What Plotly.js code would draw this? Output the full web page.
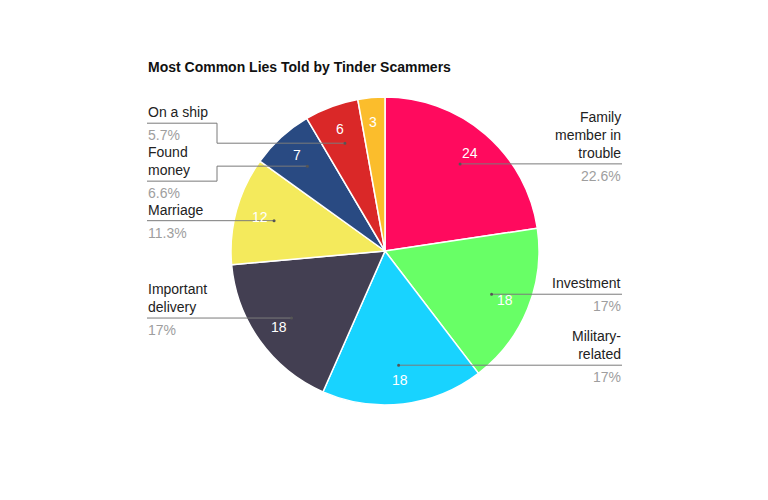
<!DOCTYPE html>
<html>
<head>
<meta charset="utf-8">
<script src="https://cdn.plot.ly/plotly-3.0.1.min.js"></script>
<style>
  html, body { margin: 0; padding: 0; background: #fff; }
  #chart { width: 768px; height: 500px; }
</style>
</head>
<body>
<div id="chart"></div>
<script>
// data
var categories = ["Family member in trouble", "Investment", "Military-related", "Important delivery",
                  "Marriage", "Found money", "On a ship", "Other"]
var counts = [24, 18, 18, 18, 12, 7, 6, 3]
var calloutText = ["Family<br>member in<br>trouble", "Investment", "Military-<br>related", "Important<br>delivery",
                   "Marriage", "Found<br>money", "On a ship", ""]
var colors = ["#ff0a5e", "#68ff66", "#18d3ff", "#433f52", "#f4ea5c", "#294a82", "#da2828", "#fbbd2c"]

// pie geometry in pixels
var W = 768, H = 500
var cx = 385, cy = 251, R = 154
// callouts on the left that are pushed up/down to avoid overlapping
var calloutShift = { "Found money": 15, "On a ship": -20 }

function px(x) { return x / W }
function py(y) { return 1 - y / H }

var total = counts.reduce((a, b) => a + b, 0)
var annotations = []
var shapes = []
var run = 0

counts.forEach((v, i) => {
    var mid = (run + v / 2) / total * 2 * Math.PI
    run += v

    // value inside the slice
    annotations.push({
        xref: "paper", yref: "paper",
        x: px(cx + 130 * Math.sin(mid)), y: py(cy - 130 * Math.cos(mid)),
        xanchor: "center", yanchor: "middle",
        text: String(v), showarrow: false,
        font: { family: "Arial, Liberation Sans", size: 14, color: "#ffffff" }
    })

    if (!calloutText[i]) return

    var ax = cx + 115 * Math.sin(mid)
    var ay = cy - 115 * Math.cos(mid)
    var right = Math.sin(mid) > 0
    var ly = ay + (calloutShift[categories[i]] || 0)
    var pct = (v / total * 100).toFixed(1).replace(/\.0$/, "") + "%"

    if (right) {
        shapes.push({ type: "line", xref: "paper", yref: "paper",
            x0: px(ax), y0: py(ay), x1: px(622), y1: py(ay),
            line: { color: "#7a7a7a", width: 1 } })
        ly = ay
    } else if (ly === ay) {
        shapes.push({ type: "line", xref: "paper", yref: "paper",
            x0: px(147), y0: py(ay), x1: px(ax), y1: py(ay),
            line: { color: "#7a7a7a", width: 1 } })
    } else {
        shapes.push({ type: "path", xref: "paper", yref: "paper",
            path: "M" + px(147) + "," + py(ly) + " L" + px(217) + "," + py(ly) +
                  " L" + px(217) + "," + py(ay) + " L" + px(ax) + "," + py(ay),
            line: { color: "#7a7a7a", width: 1 } })
    }
    shapes.push({ type: "circle", xref: "paper", yref: "paper",
        x0: px(ax - 1.5), y0: py(ay - 1.5), x1: px(ax + 1.5), y1: py(ay + 1.5),
        fillcolor: "#555", line: { width: 0 } })

    var tx = right ? px(622) : px(147)
    var anchor = right ? "right" : "left"
    annotations.push({
        xref: "paper", yref: "paper", x: tx, y: py(ly - 2),
        xanchor: anchor, yanchor: "bottom", align: anchor,
        text: calloutText[i], showarrow: false, borderpad: 0,
        font: { family: "Arial, Liberation Sans", size: 14, color: "#222222" }
    })
    annotations.push({
        xref: "paper", yref: "paper", x: tx, y: py(ly + 3),
        xanchor: anchor, yanchor: "top", align: anchor,
        text: pct, showarrow: false, borderpad: 0,
        font: { family: "Arial, Liberation Sans", size: 14, color: "#9e9e9e" }
    })
})

annotations.push({
    xref: "paper", yref: "paper", x: px(146), y: py(67),
    xanchor: "left", yanchor: "middle",
    text: "<b>Most Common Lies Told by Tinder Scammers</b>", showarrow: false,
    font: { family: "Arial, Liberation Sans", size: 14, color: "#111111" }
})

var trace = {
    type: "pie",
    labels: categories,
    values: counts,
    sort: false,
    direction: "clockwise",
    rotation: 0,
    textinfo: "none",
    hoverinfo: "label+value+percent",
    marker: { colors: colors, line: { color: "#ffffff", width: 1.5 } },
    domain: { x: [px(cx - R), px(cx + R)], y: [py(cy + R), py(cy - R)] }
}

var layout = {
    width: W,
    height: H,
    margin: { t: 0, b: 0, l: 0, r: 0, pad: 0 },
    showlegend: false,
    paper_bgcolor: "#ffffff",
    annotations: annotations,
    shapes: shapes
}

Plotly.newPlot("chart", [trace], layout, { displayModeBar: false })
</script>
</body>
</html>
